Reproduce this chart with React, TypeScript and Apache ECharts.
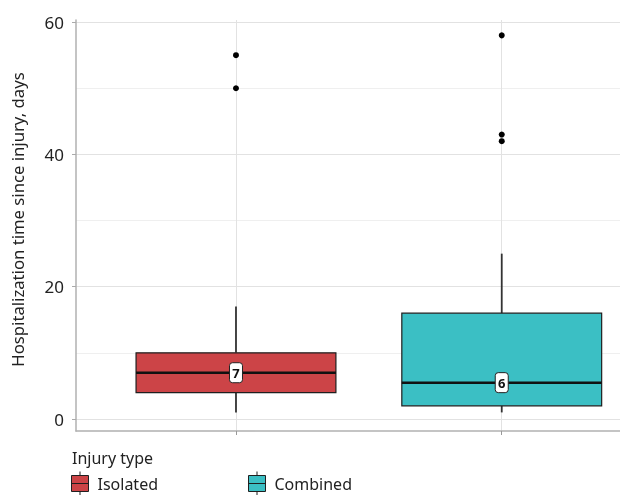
import React, { useEffect, useRef } from "react";
import * as echarts from "echarts";

// ---- data ----
const categories = ["Isolated", "Combined"];
const categoryPos = [1, 2];
// [min, Q1, median, Q3, max]
const isolatedBox = [1, 4, 7, 10, 17];
const combinedBox = [1, 2, 5.5, 16, 25];
const isolatedOutliers = [55, 50];
const combinedOutliers = [58, 43, 42];
const medianLabels = ["7", "6"];
const yMajorTicks = [0, 20, 40, 60];
const yGridTicks = [0, 10, 20, 30, 40, 50, 60];

const colors = ["#CC4447", "#3BBFC4"];
const FONT = "Noto Sans";
const BOX_W = 0.752;

const legendIcon = "path://M8.5 0 V4 M0 4 H17 V20 H0 Z M0 12 H17 M8.5 20 V24";

export default function App() {
  const ref = useRef<HTMLDivElement>(null);
  useEffect(() => {
    const chart = echarts.init(ref.current!, undefined, { renderer: "svg" });

    const makeRender = (label: string) => (params: any, api: any) => {
      const x = api.value(0);
      const lo = api.value(1);
      const q1 = api.value(2);
      const med = api.value(3);
      const q3 = api.value(4);
      const hi = api.value(5);
      const half = api.size([BOX_W, 0])[0] / 2;
      const [cx, yHi] = api.coord([x, hi]);
      const yQ3 = api.coord([x, q3])[1];
      const yMed = api.coord([x, med])[1];
      const yQ1 = api.coord([x, q1])[1];
      const yLo = api.coord([x, lo])[1];
      return {
        type: "group",
        children: [
          { type: "line", shape: { x1: cx, y1: yHi, x2: cx, y2: yQ3 }, style: { stroke: "#333", lineWidth: 1.8 } },
          { type: "line", shape: { x1: cx, y1: yQ1, x2: cx, y2: yLo }, style: { stroke: "#333", lineWidth: 1.8 } },
          {
            type: "rect",
            shape: { x: cx - half, y: yQ3, width: half * 2, height: yQ1 - yQ3 },
            style: { fill: api.visual("color"), stroke: "#1f1f1f", lineWidth: 1.2 },
          },
          {
            type: "line",
            shape: { x1: cx - half, y1: yMed, x2: cx + half, y2: yMed },
            style: { stroke: "#111", lineWidth: 2.5 },
          },
          {
            type: "rect",
            shape: { x: cx - 6.5, y: yMed - 10, width: 13, height: 20, r: 3 },
            style: { fill: "#fff", stroke: "#222", lineWidth: 1 },
          },
          {
            type: "text",
            x: cx,
            y: yMed + 0.5,
            style: {
              text: label,
              fill: "#111",
              fontSize: 13,
              fontWeight: "bold",
              fontFamily: FONT,
              align: "center",
              verticalAlign: "middle",
            },
          },
        ],
      };
    };

    const outlierData = [
      ...isolatedOutliers.map((v) => [categoryPos[0], v]),
      ...combinedOutliers.map((v) => [categoryPos[1], v]),
    ];

    const legendBase = {
      top: 471,
      padding: 0,
      itemWidth: 17,
      itemHeight: 24,
      selectedMode: false,
      textStyle: { fontSize: 16, color: "#222", fontFamily: FONT, padding: [0, 0, 0, 4] },
    };

    chart.setOption({
      animation: false,
      grid: { left: 76, right: 0, top: 20, bottom: 64, outerBoundsMode: "none" },
      title: {
        text: "Injury type",
        left: 72,
        top: 450,
        padding: 0,
        textStyle: { fontSize: 16, fontWeight: "normal", color: "#222", fontFamily: FONT },
      },
      legend: [
        {
          ...legendBase,
          left: 71,
          data: [
            {
              name: categories[0],
              icon: legendIcon,
              itemStyle: { color: colors[0], borderColor: "#1f1f1f", borderWidth: 1 },
            },
          ],
        },
        {
          ...legendBase,
          left: 248,
          data: [
            {
              name: categories[1],
              icon: legendIcon,
              itemStyle: { color: colors[1], borderColor: "#1f1f1f", borderWidth: 1 },
            },
          ],
        },
      ],
      xAxis: {
        type: "value",
        min: 0.398,
        max: 2.445,
        axisLine: { show: true, onZero: false, lineStyle: { color: "#b0b0b0", width: 1.5 } },
        axisTick: { show: true, customValues: categoryPos, length: 4, lineStyle: { color: "#999" } },
        axisLabel: { show: false },
        splitLine: { show: true, lineStyle: { color: "#e2e2e2", width: 1 } },
      },
      yAxis: [
        {
          type: "value",
          min: -1.81,
          max: 60.32,
          axisLine: { show: false },
          axisTick: { show: false, customValues: yGridTicks },
          axisLabel: { show: false },
          splitLine: { show: true, lineStyle: { color: ["#e2e2e2", "#efefef"], width: 1 } },
        },
        {
          type: "value",
          min: -1.81,
          max: 60.32,
          position: "left",
          name: "Hospitalization time since injury, days",
          nameLocation: "middle",
          nameGap: 50,
          nameTextStyle: { fontSize: 16.7, color: "#222", fontFamily: FONT, padding: [0, 0, 0, 12] },
          axisLine: { show: true, onZero: false, lineStyle: { color: "#b0b0b0", width: 1.5 } },
          axisTick: { show: true, customValues: yMajorTicks, length: 4, lineStyle: { color: "#aaa" } },
          axisLabel: { show: true, customValues: yMajorTicks, margin: 12, fontSize: 17, color: "#222", fontFamily: FONT },
          splitLine: { show: false },
        },
      ],
      series: [
        {
          name: categories[0],
          type: "custom",
          itemStyle: { color: colors[0] },
          renderItem: makeRender(medianLabels[0]),
          encode: { x: 0, y: [1, 2, 3, 4, 5] },
          data: [[categoryPos[0], ...isolatedBox]],
          z: 3,
        },
        {
          name: categories[1],
          type: "custom",
          itemStyle: { color: colors[1] },
          renderItem: makeRender(medianLabels[1]),
          encode: { x: 0, y: [1, 2, 3, 4, 5] },
          data: [[categoryPos[1], ...combinedBox]],
          z: 3,
        },
        {
          name: "outliers",
          type: "scatter",
          symbol: "circle",
          symbolSize: 6,
          itemStyle: { color: "#000", opacity: 1 },
          data: outlierData,
          z: 4,
        },
      ],
    });
    return () => chart.dispose();
  }, []);
  return <div ref={ref} style={{ position: "fixed", left: 0, top: 0, width: 620, height: 495 }} />;
}
